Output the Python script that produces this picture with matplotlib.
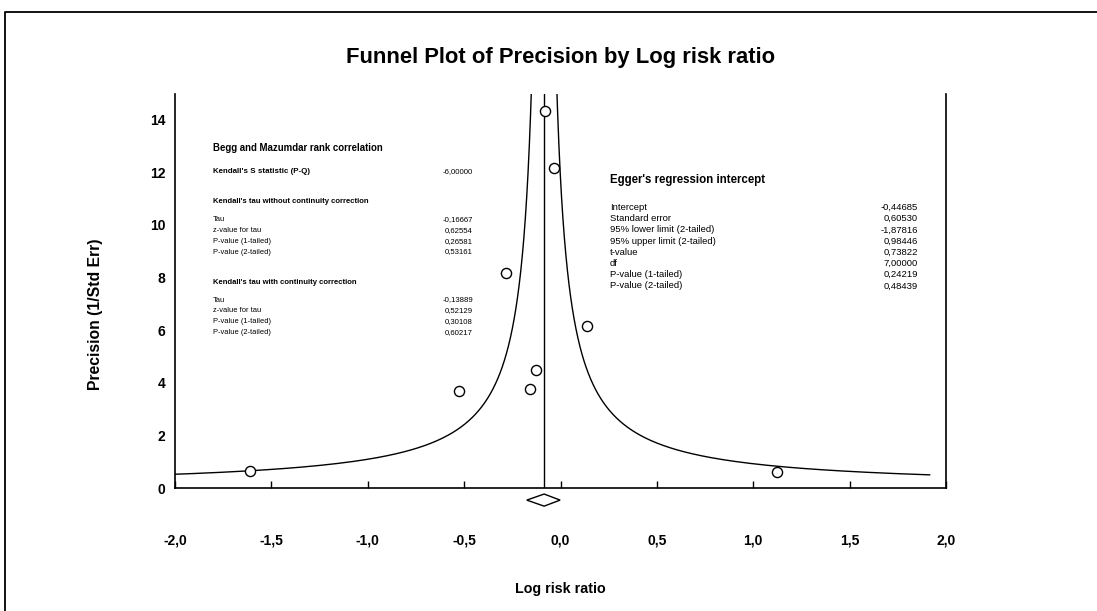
import numpy as np
import matplotlib
matplotlib.use("Agg")
import matplotlib.pyplot as plt
from matplotlib.lines import Line2D

plt.rcParams['font.family'] = ['Liberation Sans', 'DejaVu Sans']

# ---------------- data ----------------
log_rr = [-1.609, -0.527, -0.281, -0.160, -0.125, -0.082, -0.033, 0.137, 1.123]
precision = [0.63, 3.69, 8.16, 3.75, 4.49, 14.35, 12.16, 6.17, 0.62]
combined = -0.085
combined_lo = -0.175
combined_hi = -0.002
funnel_z = 1.0
funnel_p_min, funnel_p_max = 0.5, 15.0

xticks = [-2.0, -1.5, -1.0, -0.5, 0.0, 0.5, 1.0, 1.5, 2.0]
xtick_labels = ["-2,0", "-1,5", "-1,0", "-0,5", "0,0", "0,5", "1,0", "1,5", "2,0"]
yticks = [0, 2, 4, 6, 8, 10, 12, 14]

begg_title = "Begg and Mazumdar rank correlation"
begg_s_label, begg_s_value = "Kendall's S statistic (P-Q)", "-6,00000"
tau_nc_title = "Kendall's tau without continuity correction"
tau_nc_labels = ["Tau", "z-value for tau", "P-value (1-tailed)", "P-value (2-tailed)"]
tau_nc_values = ["-0,16667", "0,62554", "0,26581", "0,53161"]
tau_cc_title = "Kendall's tau with continuity correction"
tau_cc_labels = ["Tau", "z-value for tau", "P-value (1-tailed)", "P-value (2-tailed)"]
tau_cc_values = ["-0,13889", "0,52129", "0,30108", "0,60217"]
egger_title = "Egger's regression intercept"
egger_labels = ["Intercept", "Standard error", "95% lower limit (2-tailed)",
                "95% upper limit (2-tailed)", "t-value", "df",
                "P-value (1-tailed)", "P-value (2-tailed)"]
egger_values = ["-0,44685", "0,60530", "-1,87816", "0,98446", "0,73822",
                "7,00000", "0,24219", "0,48439"]

# ---------------- figure ----------------
W, H = 1097, 611
fig = plt.figure(figsize=(W / 100, H / 100), dpi=100)

def fx(x):
    return x / W

def fy(y):
    return 1 - y / H

# outer frame (left and top)
fig.add_artist(Line2D([fx(5), fx(5), 1.0], [0.0, fy(12), fy(12)],
                      transform=fig.transFigure, color='black', lw=1.3))

ax_l, ax_r, ax_b, ax_t = 175, 946, 488, 93.5
ax = fig.add_axes([fx(ax_l), fy(ax_b), (ax_r - ax_l) / W, (ax_b - ax_t) / H])
ax.set_xlim(-2.0, 2.0)
ax.set_ylim(0, 15)
ax.spines['top'].set_visible(False)
for s in ['left', 'right', 'bottom']:
    ax.spines[s].set_linewidth(1.2)

ax.set_xticks(xticks)
ax.set_xticklabels(xtick_labels, fontweight='bold', fontsize=10)
ax.set_yticks(yticks)
ax.set_yticklabels([str(v) for v in yticks], fontweight='bold', fontsize=10)
ax.tick_params(axis='x', direction='in', length=5, width=1, pad=33)
ax.tick_params(axis='y', length=0, pad=7)

# funnel
p = np.linspace(funnel_p_min, funnel_p_max, 600)
ax.plot(combined - funnel_z / p, p, color='black', lw=1.0)
ax.plot(combined + funnel_z / p, p, color='black', lw=1.0)
ax.plot([combined, combined], [0, 15], color='black', lw=1.0)

# studies
ax.plot(log_rr, precision, linestyle='none', marker='o', markersize=7.3,
        markerfacecolor='white', markeredgecolor='black', markeredgewidth=1.0,
        zorder=5)

# combined diamond
dy_c, dh = -0.46, 0.23
ax.fill([combined_lo, combined, combined_hi, combined],
        [dy_c, dy_c + dh, dy_c, dy_c - dh],
        facecolor='white', edgecolor='black', lw=1.0, clip_on=False, zorder=6)

ax.set_xlabel("Log risk ratio", fontweight='bold', fontsize=10.3)
ax.xaxis.set_label_coords(0.4994, (ax_b - 582) / (ax_b - ax_t))
ax.set_ylabel("Precision (1/Std Err)", fontweight='bold', fontsize=11.3)
ax.yaxis.set_label_coords((102.7 - ax_l) / (ax_r - ax_l), (ax_b - 314) / (ax_b - ax_t))

fig.text(fx(561), fy(57), "Funnel Plot of Precision by Log risk ratio",
         ha='center', va='center', fontsize=15.8, fontweight='bold')

# Begg block
bx, bvx = 213, 473
fig.text(fx(bx), fy(148), begg_title, fontsize=6.9, fontweight='bold', va='center')
fig.text(fx(bx), fy(171.5), begg_s_label, fontsize=5.7, fontweight='bold', va='center')
fig.text(fx(bvx), fy(171.5), begg_s_value, fontsize=5.6, va='center', ha='right')
fig.text(fx(bx), fy(201.5), tau_nc_title, fontsize=5.5, fontweight='bold', va='center')
for i, (lab, val) in enumerate(zip(tau_nc_labels, tau_nc_values)):
    yy = 219.3 + i * 10.9
    fig.text(fx(bx), fy(yy), lab, fontsize=5.4, va='center')
    fig.text(fx(bvx), fy(yy), val, fontsize=5.6, va='center', ha='right')
fig.text(fx(bx), fy(282.3), tau_cc_title, fontsize=5.5, fontweight='bold', va='center')
for i, (lab, val) in enumerate(zip(tau_cc_labels, tau_cc_values)):
    yy = 300 + i * 10.9
    fig.text(fx(bx), fy(yy), lab, fontsize=5.4, va='center')
    fig.text(fx(bvx), fy(yy), val, fontsize=5.6, va='center', ha='right')

# Egger block
ex, evx = 610, 918
fig.text(fx(ex), fy(179.5), egger_title, fontsize=8.3, fontweight='bold', va='center')
for i, (lab, val) in enumerate(zip(egger_labels, egger_values)):
    yy = 207.5 + i * 11.2
    fig.text(fx(ex), fy(yy), lab, fontsize=6.8, va='center')
    fig.text(fx(evx), fy(yy), val, fontsize=6.8, va='center', ha='right')

fig.savefig("out.png", dpi=100, facecolor='white')
